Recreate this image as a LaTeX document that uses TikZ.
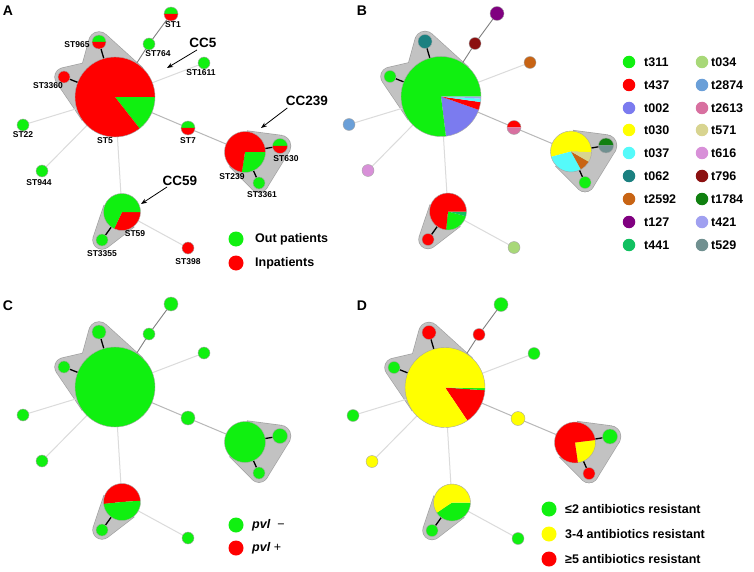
\documentclass[tikz,border=0pt]{standalone}
\usepackage{fontspec}
\setmainfont{Liberation Sans}
\usetikzlibrary{calc,arrows.meta}
\definecolor{cg}{HTML}{10F010}
\definecolor{cr}{HTML}{FF0000}
\definecolor{cy}{HTML}{FFFF00}
\definecolor{tzerotwo}{HTML}{7B7BEF}
\definecolor{tthirtyseven}{HTML}{55FAFA}
\definecolor{tsixtytwo}{HTML}{1B8080}
\definecolor{ttwofivenine}{HTML}{C86414}
\definecolor{tonetwoseven}{HTML}{800080}
\definecolor{tfourfourone}{HTML}{10C060}
\definecolor{tthirtyfour}{HTML}{A8D878}
\definecolor{ttwoeight}{HTML}{6A9FD8}
\definecolor{ttwosix}{HTML}{D870A0}
\definecolor{tfiveseven}{HTML}{D8D490}
\definecolor{tsixone}{HTML}{D890D8}
\definecolor{tsevennine}{HTML}{8B1010}
\definecolor{tseventeen}{HTML}{108010}
\definecolor{tfourtwo}{HTML}{A0A0F0}
\definecolor{tfivetwo}{HTML}{709090}
\definecolor{hullfill}{HTML}{C2C2C2}
\definecolor{hullline}{HTML}{A0A0A0}
\tikzset{
 stn/.style={circle, minimum size={2*#1*1pt}, inner sep=0pt, outer sep=0pt},
 lab/.style={font=\fontsize{8.5}{9}\selectfont\bfseries, inner sep=0pt},
 cclab/.style={font=\fontsize{13.5}{15}\selectfont\bfseries, inner sep=0pt},
 leg/.style={font=\fontsize{12.5}{14}\selectfont\bfseries, inner sep=0pt, anchor=west},
 panel/.style={font=\fontsize{14}{16}\selectfont\bfseries, inner sep=0pt},
 legdot/.style={circle, fill=#1, minimum size=15pt, inner sep=0pt},
 smalldot/.style={circle, fill=#1, minimum size=12.5pt, inner sep=0pt},
 intra/.style={black, line width=1.3pt},
 darke/.style={black!50, line width=0.9pt},
 mide/.style={black!28, line width=1pt},
 lighte/.style={black!14, line width=1pt},
 ccarrow/.style={-{Stealth[length=6pt,width=4.5pt]}, line width=0.8pt},
 pieedge/.style={draw=black!35, line width=0.4pt},
 hullout/.style={draw=hullline, line width=1.3pt},
 hullin/.style={fill=hullfill},
}
\newcommand\piechart[3]{%
 \foreach \sa/\sb/\sc in {#3}{%
   \fill[\sc] (#1.center) -- ++({0-(\sa)}:#2) arc[start angle={0-(\sa)}, end angle={0-(\sb)}, radius=#2] -- cycle;}%
 \draw[pieedge] (#1.center) circle[radius=#2];}
% tube between circle #2 (radius #4, not drawn) and circle #3 (radius #5, drawn)
\newcommand\hullpair[5]{%
  \path[#1] let \p1=($(#3)-(#2)$), \n1={90+asin((#5-#4)/veclen(\x1,\y1))},
     \n2={\n1-180}, \n3={180-\n1}, \n4={0-\n1} in
   ($(#2)!#4pt!\n1:(#3)$) -- ($(#3)!#5pt!\n2:(#2)$) -- ($(#3)!#5pt!\n3:(#2)$) -- ($(#2)!#4pt!\n4:(#3)$) -- cycle
   (#3) circle[radius=#5];}
\newcommand\hulls[2]{%
  \hullpair{#2}{#1-5}{#1-965}{40}{10}
  \hullpair{#2}{#1-5}{#1-3360}{40}{9}
  \hullpair{#2}{#1-239}{#1-630}{21}{10.5}
  \hullpair{#2}{#1-239}{#1-3361}{21}{9}
  \hullpair{#2}{#1-630}{#1-3361}{10.5}{9}
  \hullpair{#2}{#1-59}{#1-3355}{19}{9}}
\newcommand\mstlayout[1]{%
  \node[stn=40] (#1-5) at (115,97) {};
  \node[stn=7] (#1-965) at (99,42) {};
  \node[stn=6] (#1-3360) at (64,77) {};
  \node[stn=6] (#1-764) at (149,44) {};
  \node[stn=7] (#1-1) at (171,14) {};
  \node[stn=6] (#1-1611) at (204,63) {};
  \node[stn=6] (#1-22) at (23,125) {};
  \node[stn=6] (#1-944) at (42,171) {};
  \node[stn=7] (#1-7) at (188,128) {};
  \node[stn=20.5] (#1-239) at (245,152) {};
  \node[stn=7.5] (#1-630) at (280,146) {};
  \node[stn=6] (#1-3361) at (259,183) {};
  \node[stn=18.5] (#1-59) at (122,212) {};
  \node[stn=6] (#1-3355) at (102,240) {};
  \node[stn=6] (#1-398) at (188,248) {};
  \hulls{#1}{hullout}
  \hulls{#1}{hullin}
  \fill[hullfill] (#1-239.center) -- (#1-630.center) -- (#1-3361.center) -- cycle;
  \draw[intra] (#1-5) -- (#1-965);
  \draw[intra] (#1-5) -- (#1-3360);
  \draw[intra] (#1-239) -- (#1-630);
  \draw[intra] (#1-239) -- (#1-3361);
  \draw[intra] (#1-59) -- (#1-3355);
  \draw[darke] (#1-5) -- (#1-764);
  \draw[darke] (#1-764) -- (#1-1);
  \draw[mide] (#1-5) -- (#1-7);
  \draw[mide] (#1-7) -- (#1-239);
  \draw[lighte] (#1-5) -- (#1-1611);
  \draw[lighte] (#1-5) -- (#1-22);
  \draw[lighte] (#1-5) -- (#1-944);
  \draw[lighte] (#1-5) -- (#1-59);
  \draw[lighte] (#1-59) -- (#1-398);
}
\begin{document}
\begin{tikzpicture}[x=1pt,y=-1pt]
\useasboundingbox (0,0) rectangle (754,572);
\fill[white] (0,0) rectangle (754,572);

% ---------------- Panel A
\begin{scope}
\mstlayout{A}
\piechart{A-5}{40}{-52/0/cg, 0/308/cr}
\piechart{A-965}{7}{0/180/cg, 180/360/cr}
\piechart{A-3360}{6}{0/360/cr}
\piechart{A-764}{6}{0/360/cg}
\piechart{A-1}{7}{0/180/cg, 180/360/cr}
\piechart{A-1611}{6}{0/360/cg}
\piechart{A-22}{6}{0/360/cg}
\piechart{A-944}{6}{0/360/cg}
\piechart{A-7}{7}{0/180/cg, 180/360/cr}
\piechart{A-239}{20.5}{-99/0/cg, 0/261/cr}
\piechart{A-630}{7.5}{0/180/cg, 180/360/cr}
\piechart{A-3361}{6}{0/360/cg}
\piechart{A-59}{18.5}{-115/0/cr, 0/245/cg}
\piechart{A-3355}{6}{0/360/cg}
\piechart{A-398}{6}{0/360/cr}
\node[lab] (lA1) at (173,25) {ST1};
\node[lab] (lA965) at (77,45) {ST965};
\node[lab] (lA764) at (158,54) {ST764};
\node[lab] (lA1611) at (201,73) {ST1611};
\node[lab] (lA3360) at (48,86) {ST3360};
\node[lab] (lA22) at (23,135) {ST22};
\node[lab] (lA944) at (39,183) {ST944};
\node[lab] (lA5) at (105,141) {ST5};
\node[lab] (lA7) at (188,141) {ST7};
\node[lab] (lA239) at (232,177) {ST239};
\node[lab] (lA630) at (286,159) {ST630};
\node[lab] (lA3361) at (262,195) {ST3361};
\node[lab] (lA59) at (135,234) {ST59};
\node[lab] (lA3355) at (102,254) {ST3355};
\node[lab] (lA398) at (188,262) {ST398};
\node[cclab] (cc5) at (203,43) {CC5};
\node[cclab] (cc239) at (307,101) {CC239};
\node[cclab] (cc59) at (180,181) {CC59};
\coordinate (cc5t) at (167,68);
\coordinate (cc239t) at (261,128);
\coordinate (cc59t) at (141,204);
\draw[ccarrow] (cc5.south) ++(-6,2) coordinate (cc5s) -- (cc5t);
\draw[ccarrow] (cc239.south west) ++(1.5,2) coordinate (cc239s) -- (cc239t);
\draw[ccarrow] (cc59.south west) ++(4.5,1) coordinate (cc59s) -- (cc59t);
\node[legdot=cg] (legA1) at (236,239) {};
\node[legdot=cr] (legA2) at (236,263) {};
\node[leg] (legA1t) at (255,239) {Out patients};
\node[leg] (legA2t) at (255,263) {Inpatients};
\node[panel] (pA) at (8,11) {A};
\end{scope}

% ---------------- Panel B
\begin{scope}[shift={(326,-0.5)}]
\mstlayout{B}
\piechart{B-5}{40}{-83/-19.5/tzerotwo, -19.5/-8/cr, -8/-3/tthirtyseven, -3/0/tfourtwo, 0/277/cg}
\piechart{B-965}{7}{0/360/tsixtytwo}
\piechart{B-3360}{6}{0/360/cg}
\piechart{B-764}{6}{0/360/tsevennine}
\piechart{B-1}{7}{0/360/tonetwoseven}
\piechart{B-1611}{6}{0/360/ttwofivenine}
\piechart{B-22}{6}{0/360/ttwoeight}
\piechart{B-944}{6}{0/360/tsixone}
\piechart{B-7}{7}{0/180/cr, 180/360/ttwosix}
\piechart{B-239}{20.5}{-2/195/cy, 195/299/tthirtyseven, 299/330/ttwofivenine, 330/358/tfiveseven}
\piechart{B-630}{7.5}{0/180/tseventeen, 180/360/tfivetwo}
\piechart{B-3361}{6}{0/360/cg}
\piechart{B-59}{18.5}{-96/-15/cg, -15/0/tfourfourone, 0/264/cr}
\piechart{B-3355}{6}{0/360/cr}
\piechart{B-398}{6}{0/360/tthirtyfour}
\end{scope}
\node[panel] (pB) at (362,11) {B};
\foreach \cl/\tx/\yy [count=\i] in {cg/t311/62, cr/t437/85, tzerotwo/t002/108, cy/t030/130, tthirtyseven/t037/153, tsixtytwo/t062/176, ttwofivenine/t2592/199, tonetwoseven/t127/222, tfourfourone/t441/245}{
  \node[smalldot=\cl] (lb\i) at (629,\yy) {};
  \node[leg] (lbt\i) at (644,\yy) {\tx};
}
\foreach \cl/\tx/\yy [count=\i] in {tthirtyfour/t034/62, ttwoeight/t2874/85, ttwosix/t2613/108, tfiveseven/t571/130, tsixone/t616/153, tsevennine/t796/176, tseventeen/t1784/199, tfourtwo/t421/222, tfivetwo/t529/245}{
  \node[smalldot=\cl] (lc\i) at (702,\yy) {};
  \node[leg] (lct\i) at (711,\yy) {\tx};
}

% ---------------- Panel C
\begin{scope}[shift={(0,290)}]
\mstlayout{C}
\piechart{C-5}{40}{0/360/cg}
\foreach \n/\r in {965/7, 3360/6, 764/6, 1/7, 1611/6, 22/6, 944/6, 7/7, 630/7.5, 3361/6, 3355/6, 398/6}{
  \piechart{C-\n}{\r}{0/360/cg}
}
\piechart{C-239}{20.5}{0/360/cg}
\piechart{C-59}{18.5}{4/186/cr, 186/364/cg}
\end{scope}
\node[panel] (pC) at (8,306) {C};
\node[legdot=cg] (legC1) at (236,525) {};
\node[legdot=cr] (legC2) at (236,548) {};
\node[leg] (legC1t) at (252,525) {\itshape pvl\/\normalfont\ \ −};
\node[leg] (legC2t) at (252,548) {\itshape pvl\/\normalfont\ +};

% ---------------- Panel D
\begin{scope}[shift={(330,290.5)}]
\mstlayout{D}
\piechart{D-5}{40}{-56/-4/cr, -4/-1/cg, -1/304/cy}
\piechart{D-965}{7}{0/360/cr}
\piechart{D-3360}{6}{0/360/cg}
\piechart{D-764}{6}{0/360/cr}
\piechart{D-1}{7}{0/360/cg}
\piechart{D-1611}{6}{0/360/cg}
\piechart{D-22}{6}{0/360/cg}
\piechart{D-944}{6}{0/360/cy}
\piechart{D-7}{7}{0/360/cy}
\piechart{D-239}{20.5}{-82/7/cy, 7/278/cr}
\piechart{D-630}{7.5}{0/360/cg}
\piechart{D-3361}{6}{0/360/cr}
\piechart{D-59}{18.5}{-146/0/cg, 0/214/cy}
\piechart{D-3355}{6}{0/360/cg}
\piechart{D-398}{6}{0/360/cg}
\end{scope}
\node[panel] (pD) at (362,306) {D};
\node[legdot=cg] (legD1) at (549,509) {};
\node[legdot=cy] (legD2) at (549,534) {};
\node[legdot=cr] (legD3) at (549,559) {};
\node[leg] (legD1t) at (565,509) {≤2 antibiotics resistant};
\node[leg] (legD2t) at (565,534) {3-4 antibiotics resistant};
\node[leg] (legD3t) at (565,559) {≥5 antibiotics resistant};
\end{tikzpicture}
\end{document}
